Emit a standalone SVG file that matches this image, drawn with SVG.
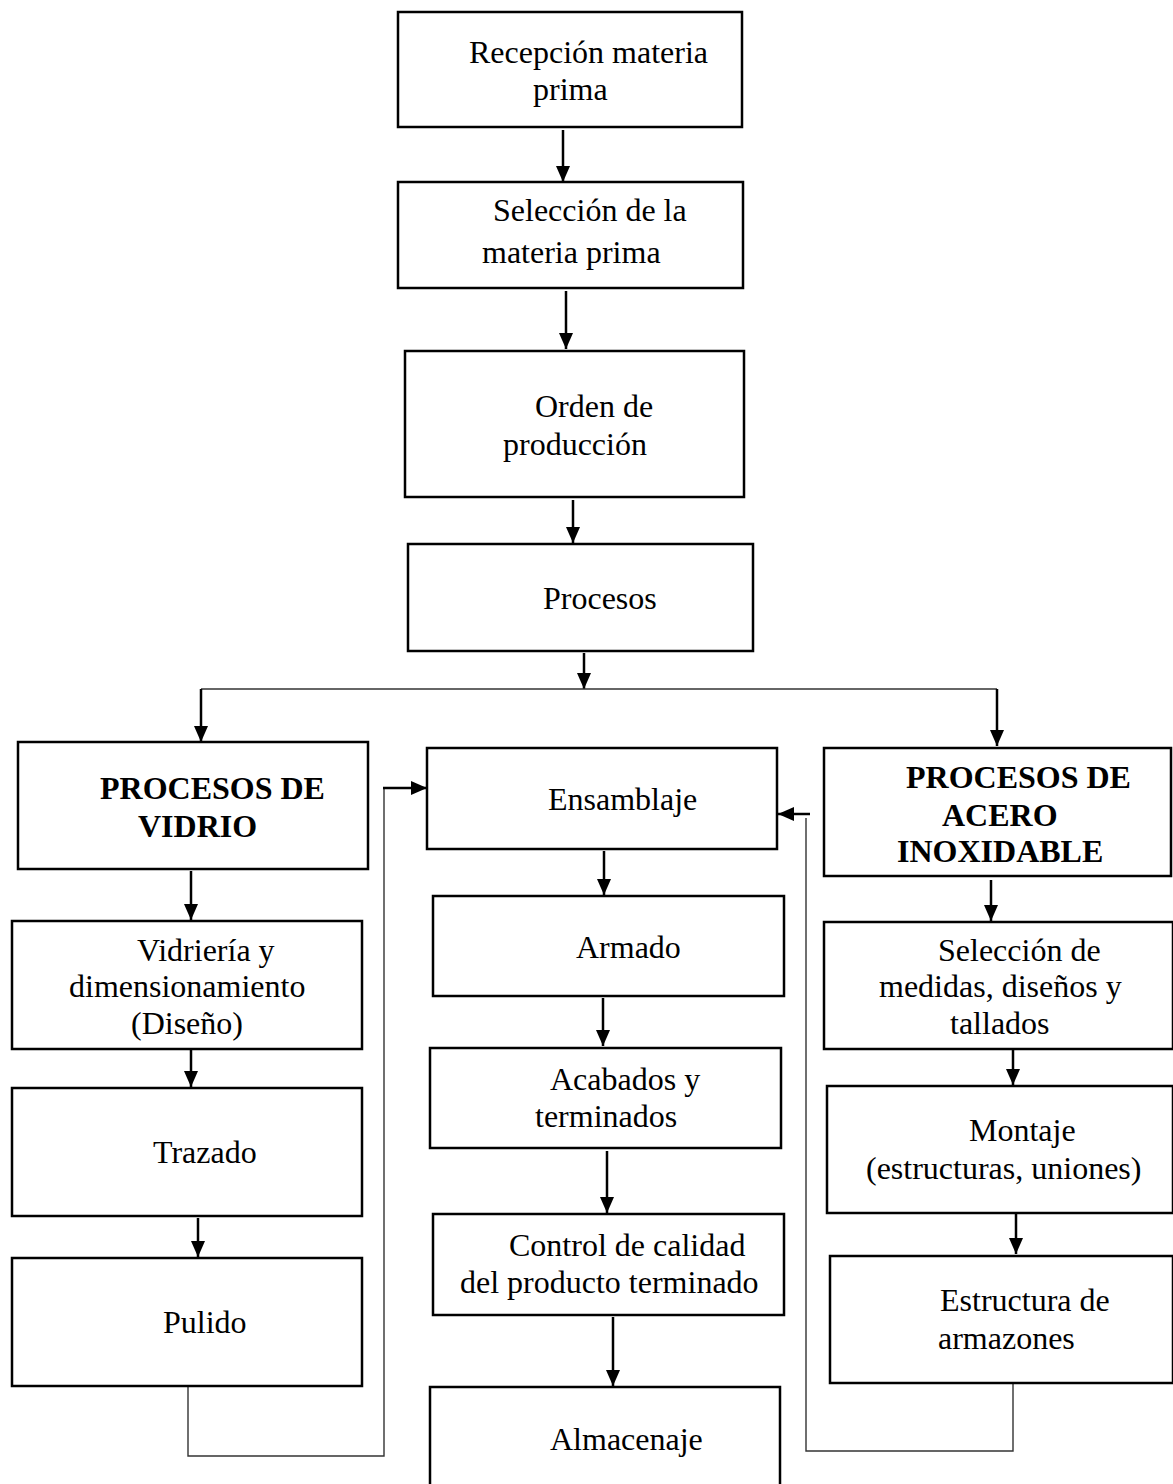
<svg xmlns="http://www.w3.org/2000/svg" width="1173" height="1484" viewBox="0 0 1173 1484">
<style>
.box{fill:#fff;stroke:#000;stroke-width:2.5}
.t{font-family:"Liberation Serif","Times New Roman",serif;font-size:32px;fill:#000}
.b{font-weight:bold}
.arr{stroke:#000;stroke-width:2.5;fill:none}
.thin{stroke:#333;stroke-width:1.4;fill:none}
</style>
<defs>
<marker id="ah" markerUnits="userSpaceOnUse" markerWidth="16" markerHeight="16" viewBox="0 0 16 14" refX="16" refY="7" orient="auto">
<path d="M0,0 L16,7 L0,14 Z" fill="#000"/>
</marker>
</defs>
<rect width="1173" height="1484" fill="#fff"/>
<g id="connectors">
<line class="arr" x1="563" y1="130" x2="563" y2="182" marker-end="url(#ah)"/>
<line class="arr" x1="566" y1="291" x2="566" y2="349" marker-end="url(#ah)"/>
<line class="arr" x1="573" y1="500" x2="573" y2="543" marker-end="url(#ah)"/>
<line class="arr" x1="584" y1="653" x2="584" y2="689" marker-end="url(#ah)"/>
<line class="thin" x1="201" y1="689" x2="997" y2="689"/>
<line class="arr" x1="201" y1="689" x2="201" y2="742" marker-end="url(#ah)"/>
<line class="arr" x1="997" y1="689" x2="997" y2="746" marker-end="url(#ah)"/>
<line class="arr" x1="191" y1="871" x2="191" y2="920" marker-end="url(#ah)"/>
<line class="arr" x1="191" y1="1050" x2="191" y2="1087" marker-end="url(#ah)"/>
<line class="arr" x1="198" y1="1218" x2="198" y2="1257" marker-end="url(#ah)"/>
<line class="arr" x1="604" y1="851" x2="604" y2="895" marker-end="url(#ah)"/>
<line class="arr" x1="603" y1="998" x2="603" y2="1046" marker-end="url(#ah)"/>
<line class="arr" x1="607" y1="1151" x2="607" y2="1213" marker-end="url(#ah)"/>
<line class="arr" x1="613" y1="1317" x2="613" y2="1386" marker-end="url(#ah)"/>
<line class="arr" x1="991" y1="880" x2="991" y2="921" marker-end="url(#ah)"/>
<line class="arr" x1="1013" y1="1050" x2="1013" y2="1085" marker-end="url(#ah)"/>
<line class="arr" x1="1016" y1="1214" x2="1016" y2="1254" marker-end="url(#ah)"/>
<polyline class="thin" points="188,1387 188,1456 384,1456 384,789"/>
<line class="arr" x1="383" y1="788" x2="427" y2="788" marker-end="url(#ah)"/>
<polyline class="thin" points="1013,1384 1013,1451 806,1451 806,818"/>
<line class="arr" x1="810" y1="814" x2="778" y2="814" marker-end="url(#ah)"/>
</g>
<g id="n1"><rect class="box" x="398" y="12" width="344" height="115"/>
<text class="t" x="469" y="63">Recepción materia</text><text class="t" x="533" y="100">prima</text></g>
<g id="n2"><rect class="box" x="398" y="182" width="345" height="106"/>
<text class="t" x="493" y="221">Selección de la</text><text class="t" x="482" y="263">materia prima</text></g>
<g id="n3"><rect class="box" x="405" y="351" width="339" height="146"/>
<text class="t" x="535" y="417">Orden de</text><text class="t" x="503" y="455">producción</text></g>
<g id="n4"><rect class="box" x="408" y="544" width="345" height="107"/>
<text class="t" x="543" y="609">Procesos</text></g>
<g id="n5"><rect class="box" x="18" y="742" width="350" height="127"/>
<text class="t b" x="100" y="799">PROCESOS DE</text><text class="t b" x="138" y="837">VIDRIO</text></g>
<g id="n6"><rect class="box" x="427" y="748" width="350" height="101"/>
<text class="t" x="548" y="810">Ensamblaje</text></g>
<g id="n7"><rect class="box" x="824" y="748" width="347" height="128"/>
<text class="t b" x="906" y="788">PROCESOS DE</text><text class="t b" x="942" y="826">ACERO</text><text class="t b" x="897" y="862">INOXIDABLE</text></g>
<g id="n8"><rect class="box" x="12" y="921" width="350" height="128"/>
<text class="t" x="137" y="961">Vidriería y</text><text class="t" x="69" y="997">dimensionamiento</text><text class="t" x="131" y="1034">(Diseño)</text></g>
<g id="n9"><rect class="box" x="12" y="1088" width="350" height="128"/>
<text class="t" x="153" y="1163">Trazado</text></g>
<g id="n10"><rect class="box" x="12" y="1258" width="350" height="128"/>
<text class="t" x="163" y="1333">Pulido</text></g>
<g id="n11"><rect class="box" x="433" y="896" width="351" height="100"/>
<text class="t" x="576" y="958">Armado</text></g>
<g id="n12"><rect class="box" x="430" y="1048" width="351" height="100"/>
<text class="t" x="550" y="1090">Acabados y</text><text class="t" x="535" y="1127">terminados</text></g>
<g id="n13"><rect class="box" x="433" y="1214" width="351" height="101"/>
<text class="t" x="509" y="1256">Control de calidad</text><text class="t" x="460" y="1293">del producto terminado</text></g>
<g id="n14"><rect class="box" x="430" y="1387" width="350" height="105"/>
<text class="t" x="550" y="1450">Almacenaje</text></g>
<g id="n15"><rect class="box" x="824" y="922" width="349" height="127"/>
<text class="t" x="938" y="961">Selección de</text><text class="t" x="879" y="997">medidas, diseños y</text><text class="t" x="950" y="1034">tallados</text></g>
<g id="n16"><rect class="box" x="827" y="1086" width="346" height="127"/>
<text class="t" x="969" y="1141">Montaje</text><text class="t" x="866" y="1179">(estructuras, uniones)</text></g>
<g id="n17"><rect class="box" x="830" y="1256" width="343" height="127"/>
<text class="t" x="940" y="1311">Estructura de</text><text class="t" x="938" y="1349">armazones</text></g>
</svg>
